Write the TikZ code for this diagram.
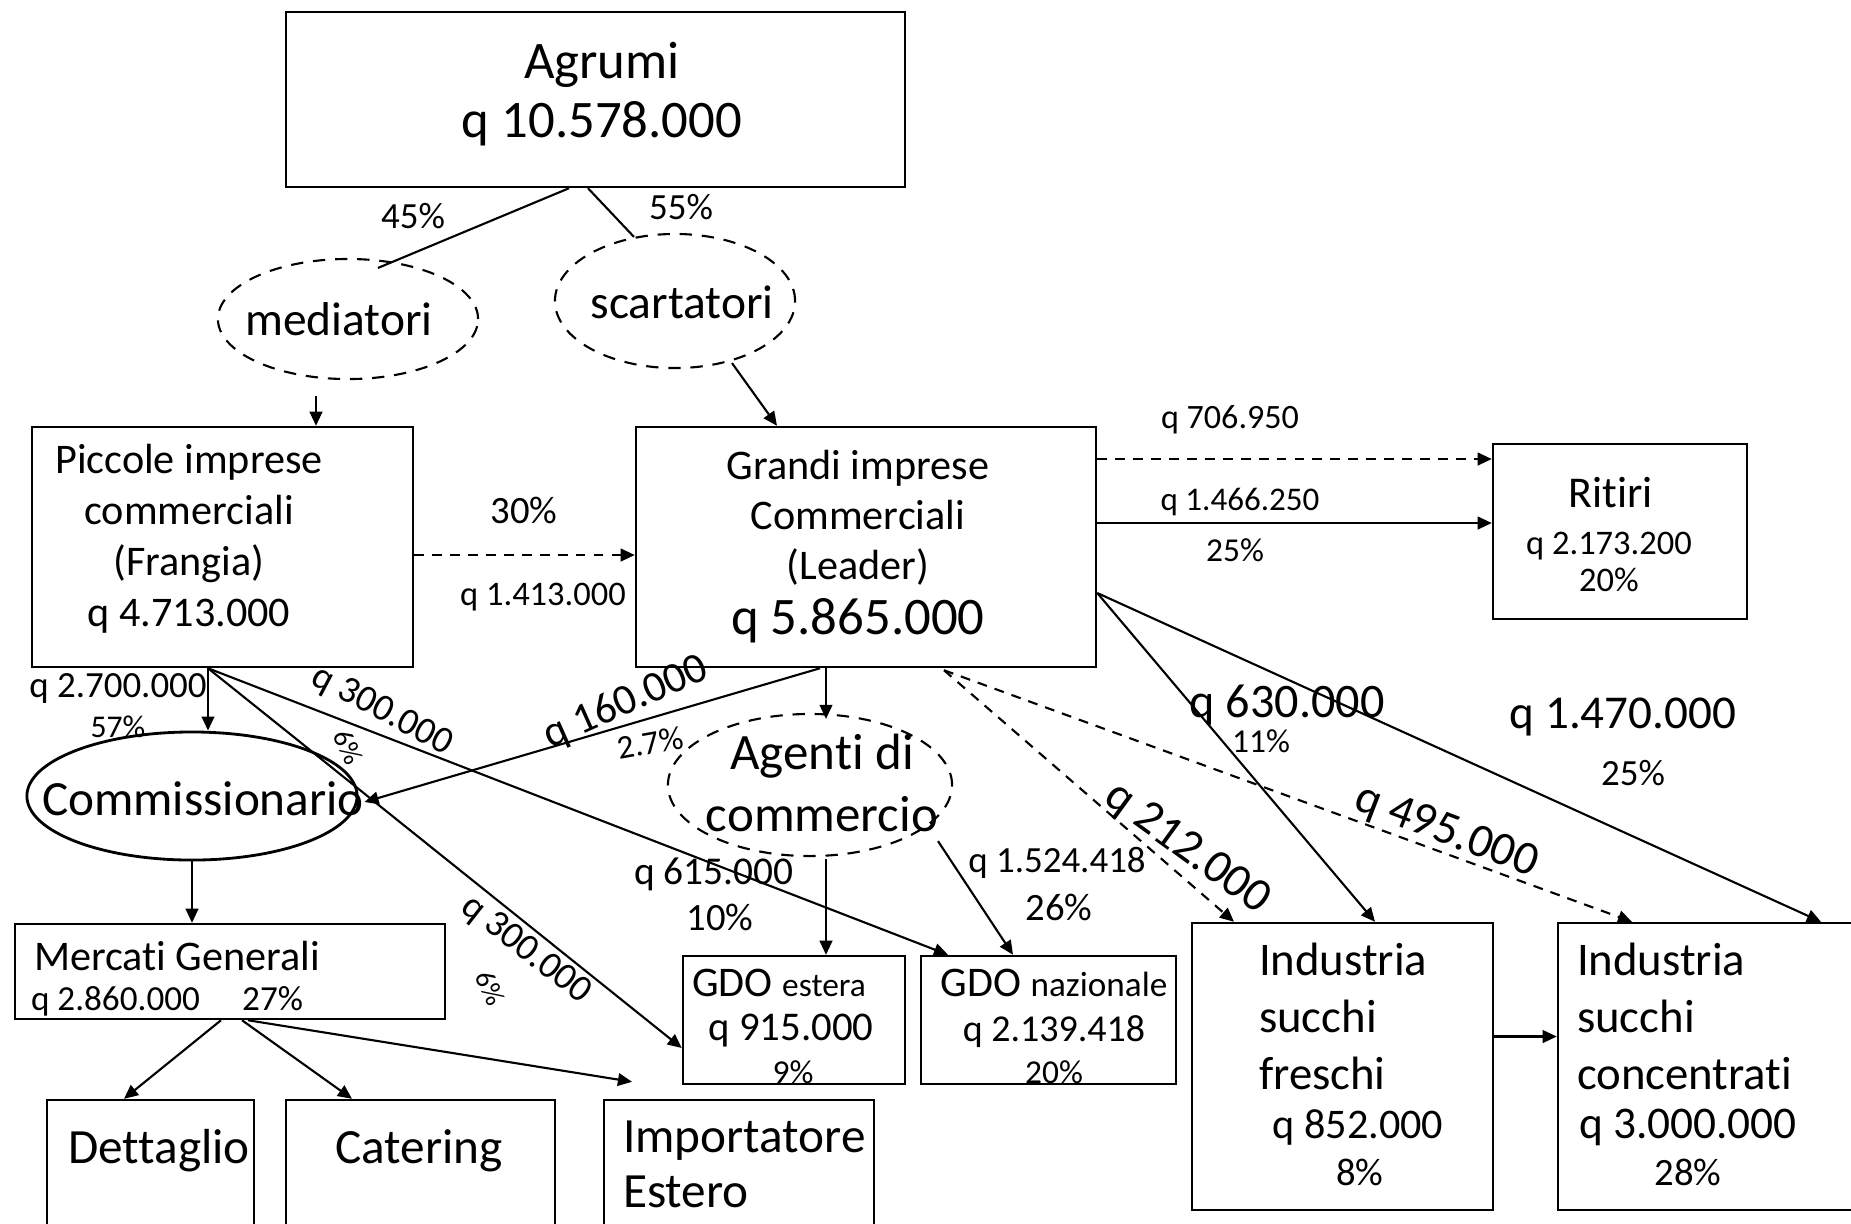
\documentclass[tikz,border=0pt]{standalone}
\usepackage{fontspec}
\setmainfont{Carlito}[Ligatures=NoCommon]
\usetikzlibrary{shapes.geometric,arrows.meta,calc,fit}
\newcommand{\myfs}[2]{\fontsize{#1}{#2}\selectfont}
\begin{document}
\begin{tikzpicture}[x=0.01cm,y=-0.01cm,
  line width=0.6pt,
  box/.style={draw,inner sep=0pt,line width=0.7pt},
  dashell/.style={draw,ellipse,inner sep=0pt,dash pattern=on 3.5pt off 2.8pt},
  solell/.style={draw,ellipse,inner sep=0pt,line width=0.8pt},
  txt/.style={inner sep=0pt,align=center},
  arr/.style={-{Triangle[length=4pt,width=3.6pt]}},
  dsh/.style={dash pattern=on 2.8pt off 2.3pt}]
\useasboundingbox (0,0) rectangle (1851,1223);
\fill[white] (0,0) rectangle (1851,1223);

% ---- boxes ----
\node[box,fit={(286,12) (905,187)}] (agrumi) {};
\node[box,fit={(32,427) (413,667)}] (piccole) {};
\node[box,fit={(636,427) (1096,667)}] (grandi) {};
\node[box,fit={(1493,444) (1747,619)}] (ritiri) {};
\node[box,fit={(15,924) (445,1019)}] (mercati) {};
\node[box,fit={(683,956) (905,1084)}] (gdoe) {};
\node[box,fit={(921,956) (1176,1084)}] (gdon) {};
\node[box,fit={(1192,923) (1493,1210)}] (indf) {};
\node[box,fit={(1558,923) (1866,1210)}] (indc) {};
\node[box,fit={(47,1100) (254,1240)}] (dett) {};
\node[box,fit={(286,1100) (555,1240)}] (cater) {};
\node[box,fit={(604,1100) (874,1240)}] (impo) {};

% ---- ellipses ----
\node[dashell,minimum width=2.6cm,minimum height=1.2cm] (med) at (348,319) {};
\node[dashell,minimum width=2.4cm,minimum height=1.34cm] (scart) at (675,301) {};
\node[solell,minimum width=3.3cm,minimum height=1.28cm] (comm) at (192,796) {};
\node[dashell,minimum width=2.84cm,minimum height=1.42cm] (agenti) at (810,785) {};

% ---- texts in shapes ----
\node[txt,font=\myfs{15}{16.8}] (agrumiT) at (602,94) {Agrumi\\q 10.578.000};
\node[txt,font=\myfs{13.5}{16}] (medT) at (339,319) {mediatori};
\node[txt,font=\myfs{13.5}{16}] (scartT) at (682,302) {scartatori};
\node[txt,font=\myfs{12}{14.5}] (piccoleT) at (189,539) {Piccole imprese\\commerciali\\(Frangia)\\q 4.713.000};
\node[txt,font=\myfs{12}{14.2}] (grandiT) at (858,547) {Grandi imprese\\Commerciali\\(Leader)\\[1.5pt]{\myfs{15}{15}q 5.865.000}};
\node[txt,font=\myfs{12.5}{14}] (ritiriT1) at (1611,493) {Ritiri};
\node[txt,font=\myfs{9.8}{10.5}] (ritiriT2) at (1609,562) {q 2.173.200\\20\%};
\node[txt,font=\myfs{14}{16}] (commT) at (203,799) {Commissionario};
\node[txt,font=\myfs{14.5}{17.4}] (agentiT) at (822,783) {Agenti di\\commercio};
\node[txt,anchor=west,font=\myfs{12}{14}] (mercatiT1) at (33,956) {Mercati Generali};
\node[txt,anchor=west,font=\myfs{10}{12}] (mercatiT2) at (30,1001) {q 2.860.000\hspace{1.2em}27\%};
\node[txt,font=\myfs{12}{14}] (gdoeT1) at (779,983) {GDO {\myfs{9.5}{11}estera}};
\node[txt,font=\myfs{11.6}{13}] (gdoeT2) at (791,1031) {q 915.000};
\node[txt,font=\myfs{9.5}{11}] (gdoeT3) at (793,1072) {9\%};
\node[txt,font=\myfs{12}{14}] (gdonT1) at (1054,983) {GDO {\myfs{10}{11}nazionale}};
\node[txt,font=\myfs{10.8}{13}] (gdonT2) at (1054,1032) {q 2.139.418};
\node[txt,font=\myfs{9.5}{11}] (gdonT3) at (1054,1072) {20\%};
\node[txt,anchor=west,align=left,font=\myfs{13.3}{16.2}] (indfT1) at (1258,1016) {Industria\\succhi\\freschi};
\node[txt,font=\myfs{12}{14}] (indfT2) at (1358,1127) {q 852.000};
\node[txt,font=\myfs{11}{13}] (indfT3) at (1360,1172) {8\%};
\node[txt,anchor=west,align=left,font=\myfs{13.3}{16.2}] (indcT1) at (1576,1016) {Industria\\succhi\\concentrati};
\node[txt,font=\myfs{12.9}{14}] (indcT2) at (1688,1127) {q 3.000.000};
\node[txt,font=\myfs{11}{13}] (indcT3) at (1688,1172) {28\%};
\node[txt,font=\myfs{14}{16}] (dettT) at (159,1151) {Dettaglio};
\node[txt,font=\myfs{14}{16}] (caterT) at (419,1151) {Catering};
\node[txt,anchor=west,align=left,font=\myfs{14}{15.6}] (impoT) at (622,1164) {Importatore\\Estero};

% ---- connectors ----
\draw ($(agrumi.south)+(-26.5,0)$) -- ($(med.north)+(30,10)$);
\draw ($(agrumi.south)+(-7.5,0)$) -- ($(scart.north)+(-41,4)$);
\draw[arr] ($(med.south)+(-32,16)$) -- ($(piccole.north)+(93.5,0)$);
\draw[arr] ($(scart.south)+(57,-6)$) -- ($(grandi.north)+(-89,0)$);
\draw[arr,dsh] ($(piccole.east)+(0,8)$) -- ($(grandi.west)+(0,8)$);
\draw[arr,dsh] ($(grandi.east)+(0,-88)$) -- ($(ritiri.west)+(0,-72.5)$);
\draw[arr] ($(grandi.east)+(0,-24)$) -- ($(ritiri.west)+(0,-8.5)$);
\draw[arr] ($(piccole.south)+(-14.5,0)$) -- ($(comm.north)+(16,0)$);
\draw[arr] ($(piccole.south)+(-14.5,0)$) -- ($(gdon.north)+(-100.5,0)$);
\draw[arr] ($(piccole.south)+(-14.5,0)$) -- ($(gdoe.west)+(0,28)$);
\draw[arr] ($(grandi.south)+(-46,0)$) -- ($(comm.east)+(6,6)$);
\draw[arr] ($(grandi.south)+(-40,0)$) -- ($(agenti.north)+(16,6)$);
\draw[arr] ($(agenti.south)+(16,2)$) -- ($(gdoe.north)+(32,0)$);
\draw[arr] ($(agenti.south)+(128,-16)$) -- ($(gdon.north)+(-35.5,0)$);
\draw[arr,dsh] ($(grandi.south)+(78,2)$) -- ($(indf.north)+(-108.5,0)$);
\draw[arr,dsh] ($(grandi.south)+(78,2)$) -- ($(indc.north)+(-80,0)$);
\draw[arr] ($(grandi.east)+(0,46)$) -- ($(indf.north)+(32.5,0)$);
\draw[arr] ($(grandi.east)+(0,46)$) -- ($(indc.north)+(109,0)$);
\draw[arr] ($(indf.east)+(0,-30)$) -- ($(indc.west)+(0,-30)$);
\draw[arr] (comm.south) -- ($(mercati.north)+(-38,0)$);
\draw[arr] ($(mercati.south)+(-9,0)$) -- ($(dett.north)+(-26.5,0)$);
\draw[arr] ($(mercati.south)+(12,0)$) -- ($(cater.north)+(-68.5,0)$);
\draw[arr] ($(mercati.south)+(18,0)$) -- ($(impo.north)+(-107,-17)$);

% ---- connector labels ----
\node[txt,font=\myfs{10.5}{12}] (l45) at (413,216) {45\%};
\node[txt,font=\myfs{10.5}{12}] (l55) at (681,207) {55\%};
\node[txt,font=\myfs{11}{12}] (l30) at (524,510) {30\%};
\node[txt,font=\myfs{9.8}{12}] (l1413) at (543,597) {q 1.413.000};
\node[txt,font=\myfs{9.7}{12}] (l706) at (1230,420) {q 706.950};
\node[txt,font=\myfs{9.4}{12}] (l1466) at (1240,502) {q 1.466.250};
\node[txt,font=\myfs{9.5}{12}] (l25a) at (1235,550) {25\%};
\node[txt,font=\myfs{10.5}{12}] (l2700) at (118,688) {q 2.700.000};
\node[txt,font=\myfs{9}{12}] (l57) at (118,727) {57\%};
\node[txt,font=\myfs{10.8}{12},rotate=-28] (l300a) at (382,711) {q 300.000};
\node[txt,font=\myfs{8}{10},rotate=-65] (l6a) at (348,747) {6\%};
\node[txt,font=\myfs{12.3}{14},rotate=24] (l160) at (626,703) {q 160.000};
\node[txt,font=\myfs{9.5}{12},rotate=10] (l27) at (650,743) {2.7\%};
\node[txt,font=\myfs{11.2}{12}] (l615) at (714,874) {q 615.000};
\node[txt,font=\myfs{11}{12}] (l10) at (720,917) {10\%};
\node[txt,font=\myfs{10.8}{12},rotate=-38] (l300b) at (526,950) {q 300.000};
\node[txt,font=\myfs{8}{10},rotate=-65] (l6b) at (490,988) {6\%};
\node[txt,font=\myfs{10.5}{12}] (l1524) at (1057,863) {q 1.524.418};
\node[txt,font=\myfs{11}{12}] (l26) at (1059,907) {26\%};
\node[txt,font=\myfs{13.5}{15},rotate=-36] (l212) at (1187,849) {q 212.000};
\node[txt,font=\myfs{13.5}{15},rotate=-21] (l495) at (1446,832) {q 495.000};
\node[txt,font=\myfs{13.7}{15}] (l630) at (1287,705) {q 630.000};
\node[txt,font=\myfs{9.5}{12}] (l11) at (1261,741) {11\%};
\node[txt,font=\myfs{13.4}{15}] (l1470) at (1623,717) {q 1.470.000};
\node[txt,font=\myfs{10.5}{12}] (l25b) at (1633,773) {25\%};
\end{tikzpicture}
\end{document}
